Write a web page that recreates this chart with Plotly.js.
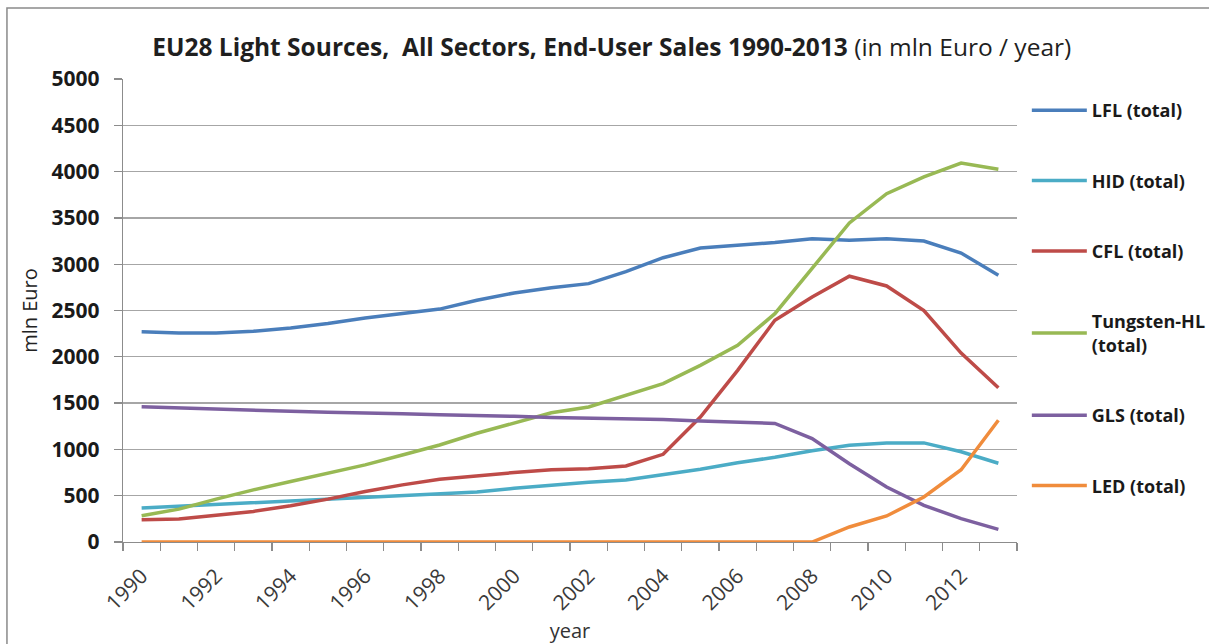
<!DOCTYPE html>
<html>
<head>
<meta charset="utf-8">
<script src="https://cdn.plot.ly/plotly-3.0.1.min.js"></script>
<style>html,body{margin:0;padding:0;background:#fff;}#chart{width:1209px;height:644px;}</style>
</head>
<body>
<div id="chart"></div>
<script>
const years = [1990,1991,1992,1993,1994,1995,1996,1997,1998,1999,2000,2001,2002,2003,2004,2005,2006,2007,2008,2009,2010,2011,2012,2013];
const tickYears = [1990,1992,1994,1996,1998,2000,2002,2004,2006,2008,2010,2012];
const seriesNames = ['LFL (total)','HID (total)','CFL (total)','Tungsten-HL<br>(total)','GLS (total)','LED (total)'];
const lfl = [2270,2258,2258,2275,2310,2360,2420,2470,2515,2610,2690,2745,2790,2920,3070,3175,3205,3235,3275,3258,3275,3250,3120,2880];
const hid = [366,385,402,420,438,460,485,500,515,540,580,615,645,670,730,785,855,915,985,1045,1070,1070,975,850];
const cfl = [240,248,290,330,391,463,545,617,678,718,750,779,790,821,947,1350,1854,2394,2646,2870,2765,2500,2040,1665];
const tungsten = [284,355,463,563,653,743,833,940,1048,1174,1288,1396,1458,1584,1710,1908,2124,2466,2952,3445,3762,3942,4093,4025];
const gls = [1461,1450,1443,1428,1412,1400,1396,1384,1373,1370,1358,1345,1338,1335,1322,1307,1296,1280,1116,846,594,396,252,137];
const led = [0,0,0,0,0,0,0,0,0,0,0,0,0,0,0,0,0,0,0,162,281,486,781,1314];

const values = [lfl, hid, cfl, tungsten, gls, led];
const colors = ['#4A7EBB','#4BACC6','#BE4B48','#98B954','#7D60A0','#F08C3C'];

const traces = values.map((v, i) => ({
  x: years, y: v, type: 'scatter', mode: 'lines', name: seriesNames[i],
  line: {color: colors[i], width: 3.5}, cliponaxis: false,
  legendgroup: 'g' + i, hoverinfo: 'skip'
}));

const layout = {
  width: 1209, height: 644,
  paper_bgcolor: '#fff', plot_bgcolor: '#fff',
  margin: {l: 123, r: 192, t: 79, b: 102, autoexpand: false},
  font: {family: '"Open Sans", sans-serif', color: '#222'},
  title: {
    text: '<b>EU28 Light Sources,  All Sectors, End-User Sales 1990-2013</b> (in mln Euro / year)',
    font: {size: 24.5, color: '#1f1f1f'},
    xref: 'container', yref: 'container', x: 0.506, xanchor: 'center', y: 0.927, yanchor: 'middle'
  },
  xaxis: {
    type: 'linear', range: [1989.5, 2013.5], tickvals: tickYears, ticktext: tickYears.map(String),
    tickangle: -45, ticks: '', showgrid: false, zeroline: false,
    showline: true, linecolor: '#8c8c8c', linewidth: 1.3,
    tickfont: {size: 21, color: '#3a3a3a'}, ticklabelstandoff: 12,
    minor: {tick0: 1989.5, dtick: 1, ticks: 'outside', ticklen: 8, tickcolor: '#8c8c8c', tickwidth: 1.3, showgrid: false},
    title: {text: 'year', font: {size: 20, color: '#333'}, standoff: 14}
  },
  yaxis: {
    range: [0, 5000], dtick: 500, tick0: 0, showgrid: true, gridcolor: '#a6a6a6', gridwidth: 1.3,
    zeroline: false, showline: true, linecolor: '#8c8c8c', linewidth: 1.3,
    ticks: 'outside', ticklen: 8, tickcolor: '#8c8c8c', tickwidth: 1.3,
    tickfont: {size: 21, color: '#1a1a1a', weight: 'bold'}, ticklabelstandoff: 10,
    title: {text: 'mln Euro', font: {size: 20, color: '#222'}, standoff: 8}
  },
  showlegend: true,
  legend: {
    x: 1.011, xanchor: 'left', y: 0.972, yanchor: 'top',
    font: {size: 18, color: '#1a1a1a', weight: 'bold'},
    tracegroupgap: 44, traceorder: 'grouped', valign: 'middle',
    bgcolor: 'rgba(0,0,0,0)', itemwidth: 55
  },
  shapes: [{
    type: 'rect', xref: 'paper', yref: 'paper',
    x0: -0.1298, y0: -1, x1: 2, y1: 1.1533,
    line: {color: '#8a8a8a', width: 1.5}, fillcolor: 'rgba(0,0,0,0)', layer: 'below'
  }]
};

Plotly.newPlot('chart', traces, layout, {displayModeBar: false, staticPlot: true});
</script>
</body>
</html>
